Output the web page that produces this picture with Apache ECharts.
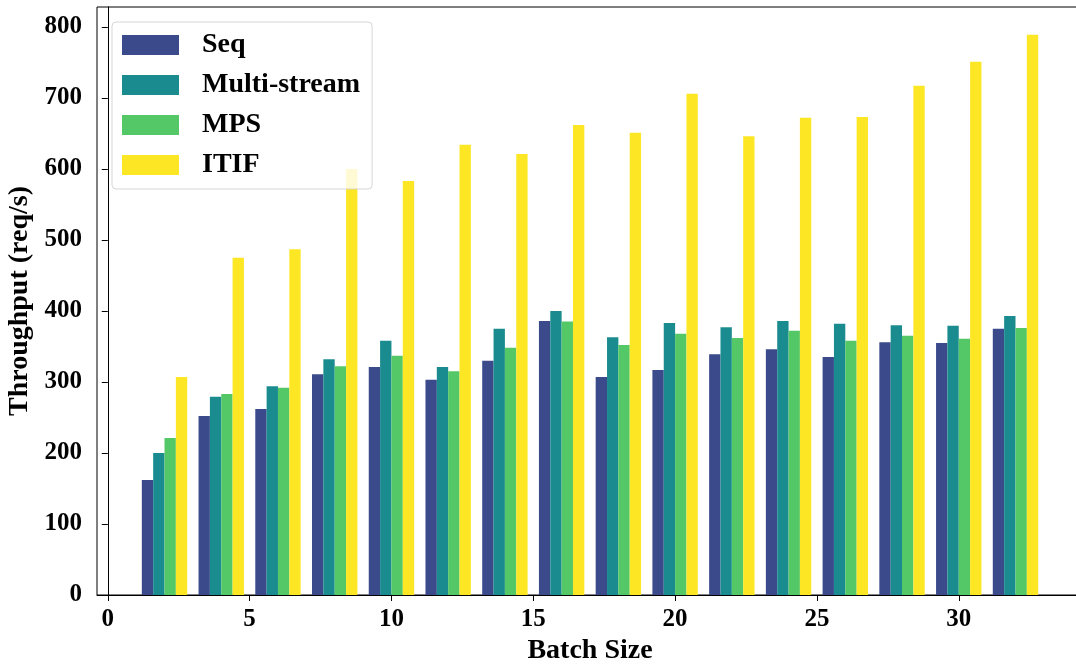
<!DOCTYPE html>
<html>
<head>
<meta charset="utf-8">
<script src="https://cdn.jsdelivr.net/npm/echarts@6/dist/echarts.min.js"></script>
<style>
html,body{margin:0;padding:0;background:#fff;}
#chart{width:1076px;height:666px;}
</style>
</head>
<body>
<div id="chart"></div>
<script>
const batchSizes = [2,4,6,8,10,12,14,16,18,20,22,24,26,28,30,32];
const seqValues = [162,252,262,311,321,303,330,386,307,317,339,346,335,356,355,375];
const multiStreamValues = [200,279,294,332,358,321,375,400,363,383,377,386,382,380,379,393];
const mpsValues = [221,283,292,322,337,315,348,385,352,368,362,372,358,365,361,376];
const itifValues = [307,475,487,600,583,634,621,662,651,706,646,672,673,717,751,789];
const xTicks = [0,5,10,15,20,25,30];
const yTicks = [0,100,200,300,400,500,600,700,800];
const seriesNames = ['Seq','Multi-stream','MPS','ITIF'];
const seriesColors = ['#3a4a8a','#1a8c8f','#54c766','#fde725'];

const xMin = -0.38, xMax = 34.38, yMin = 0, yMax = 828;
const gridLeft = 97, gridTop = 7, gridW = 986, gridH = 588;
const barW = 0.4 * gridW / (xMax - xMin);

const font = 'Liberation Serif';
const allValues = [seqValues, multiStreamValues, mpsValues, itifValues];

const chart = echarts.init(document.getElementById('chart'), null, {renderer:'canvas'});
chart.setOption({
  animation: false,
  backgroundColor: '#fff',
  grid: {left: gridLeft, top: gridTop, width: gridW, height: gridH, show: true, borderColor: '#000', borderWidth: 1, outerBoundsMode: 'none'},
  legend: {
    orient: 'vertical', left: 112, top: 22,
    padding: [9, 12, 10, 10],
    backgroundColor: 'rgba(255,255,255,0.8)',
    borderColor: 'rgba(204,204,204,0.8)', borderWidth: 1, borderRadius: 4,
    itemWidth: 57, itemHeight: 20, itemGap: 12, icon: 'rect',
    textStyle: {fontFamily: font, fontWeight: 'bold', fontSize: 28, color: '#000', padding: [0,0,0,18]},
    data: seriesNames
  },
  xAxis: {
    type: 'value', min: xMin, max: xMax,
    name: 'Batch Size', nameLocation: 'middle', nameGap: 41,
    nameTextStyle: {fontFamily: font, fontWeight: 'bold', fontSize: 28, color: '#000'},
    axisLine: {show: true, lineStyle: {color: '#000', width: 1}},
    axisTick: {show: true, inside: false, length: 6, customValues: xTicks, lineStyle: {color: '#000'}},
    axisLabel: {customValues: xTicks, fontFamily: font, fontWeight: 'bold', fontSize: 25, color: '#000', margin: 12},
    splitLine: {show: false}
  },
  yAxis: {
    type: 'value', min: yMin, max: yMax,
    name: 'Throughput (req/s)', nameLocation: 'middle', nameGap: 60,
    nameTextStyle: {fontFamily: font, fontWeight: 'bold', fontSize: 28, color: '#000'},
    axisLine: {show: true, lineStyle: {color: '#000', width: 1}},
    axisTick: {show: true, inside: false, length: 6, customValues: yTicks, lineStyle: {color: '#000'}},
    axisLabel: {customValues: yTicks, fontFamily: font, fontWeight: 'bold', fontSize: 25, color: '#000', margin: 15},
    splitLine: {show: false}
  },
  series: seriesNames.map((name, i) => ({
    name: name,
    type: 'bar',
    barWidth: barW,
    barGap: '0%',
    itemStyle: {color: seriesColors[i]},
    data: batchSizes.map((b, j) => [b, allValues[i][j]])
  }))
});
</script>
</body>
</html>
